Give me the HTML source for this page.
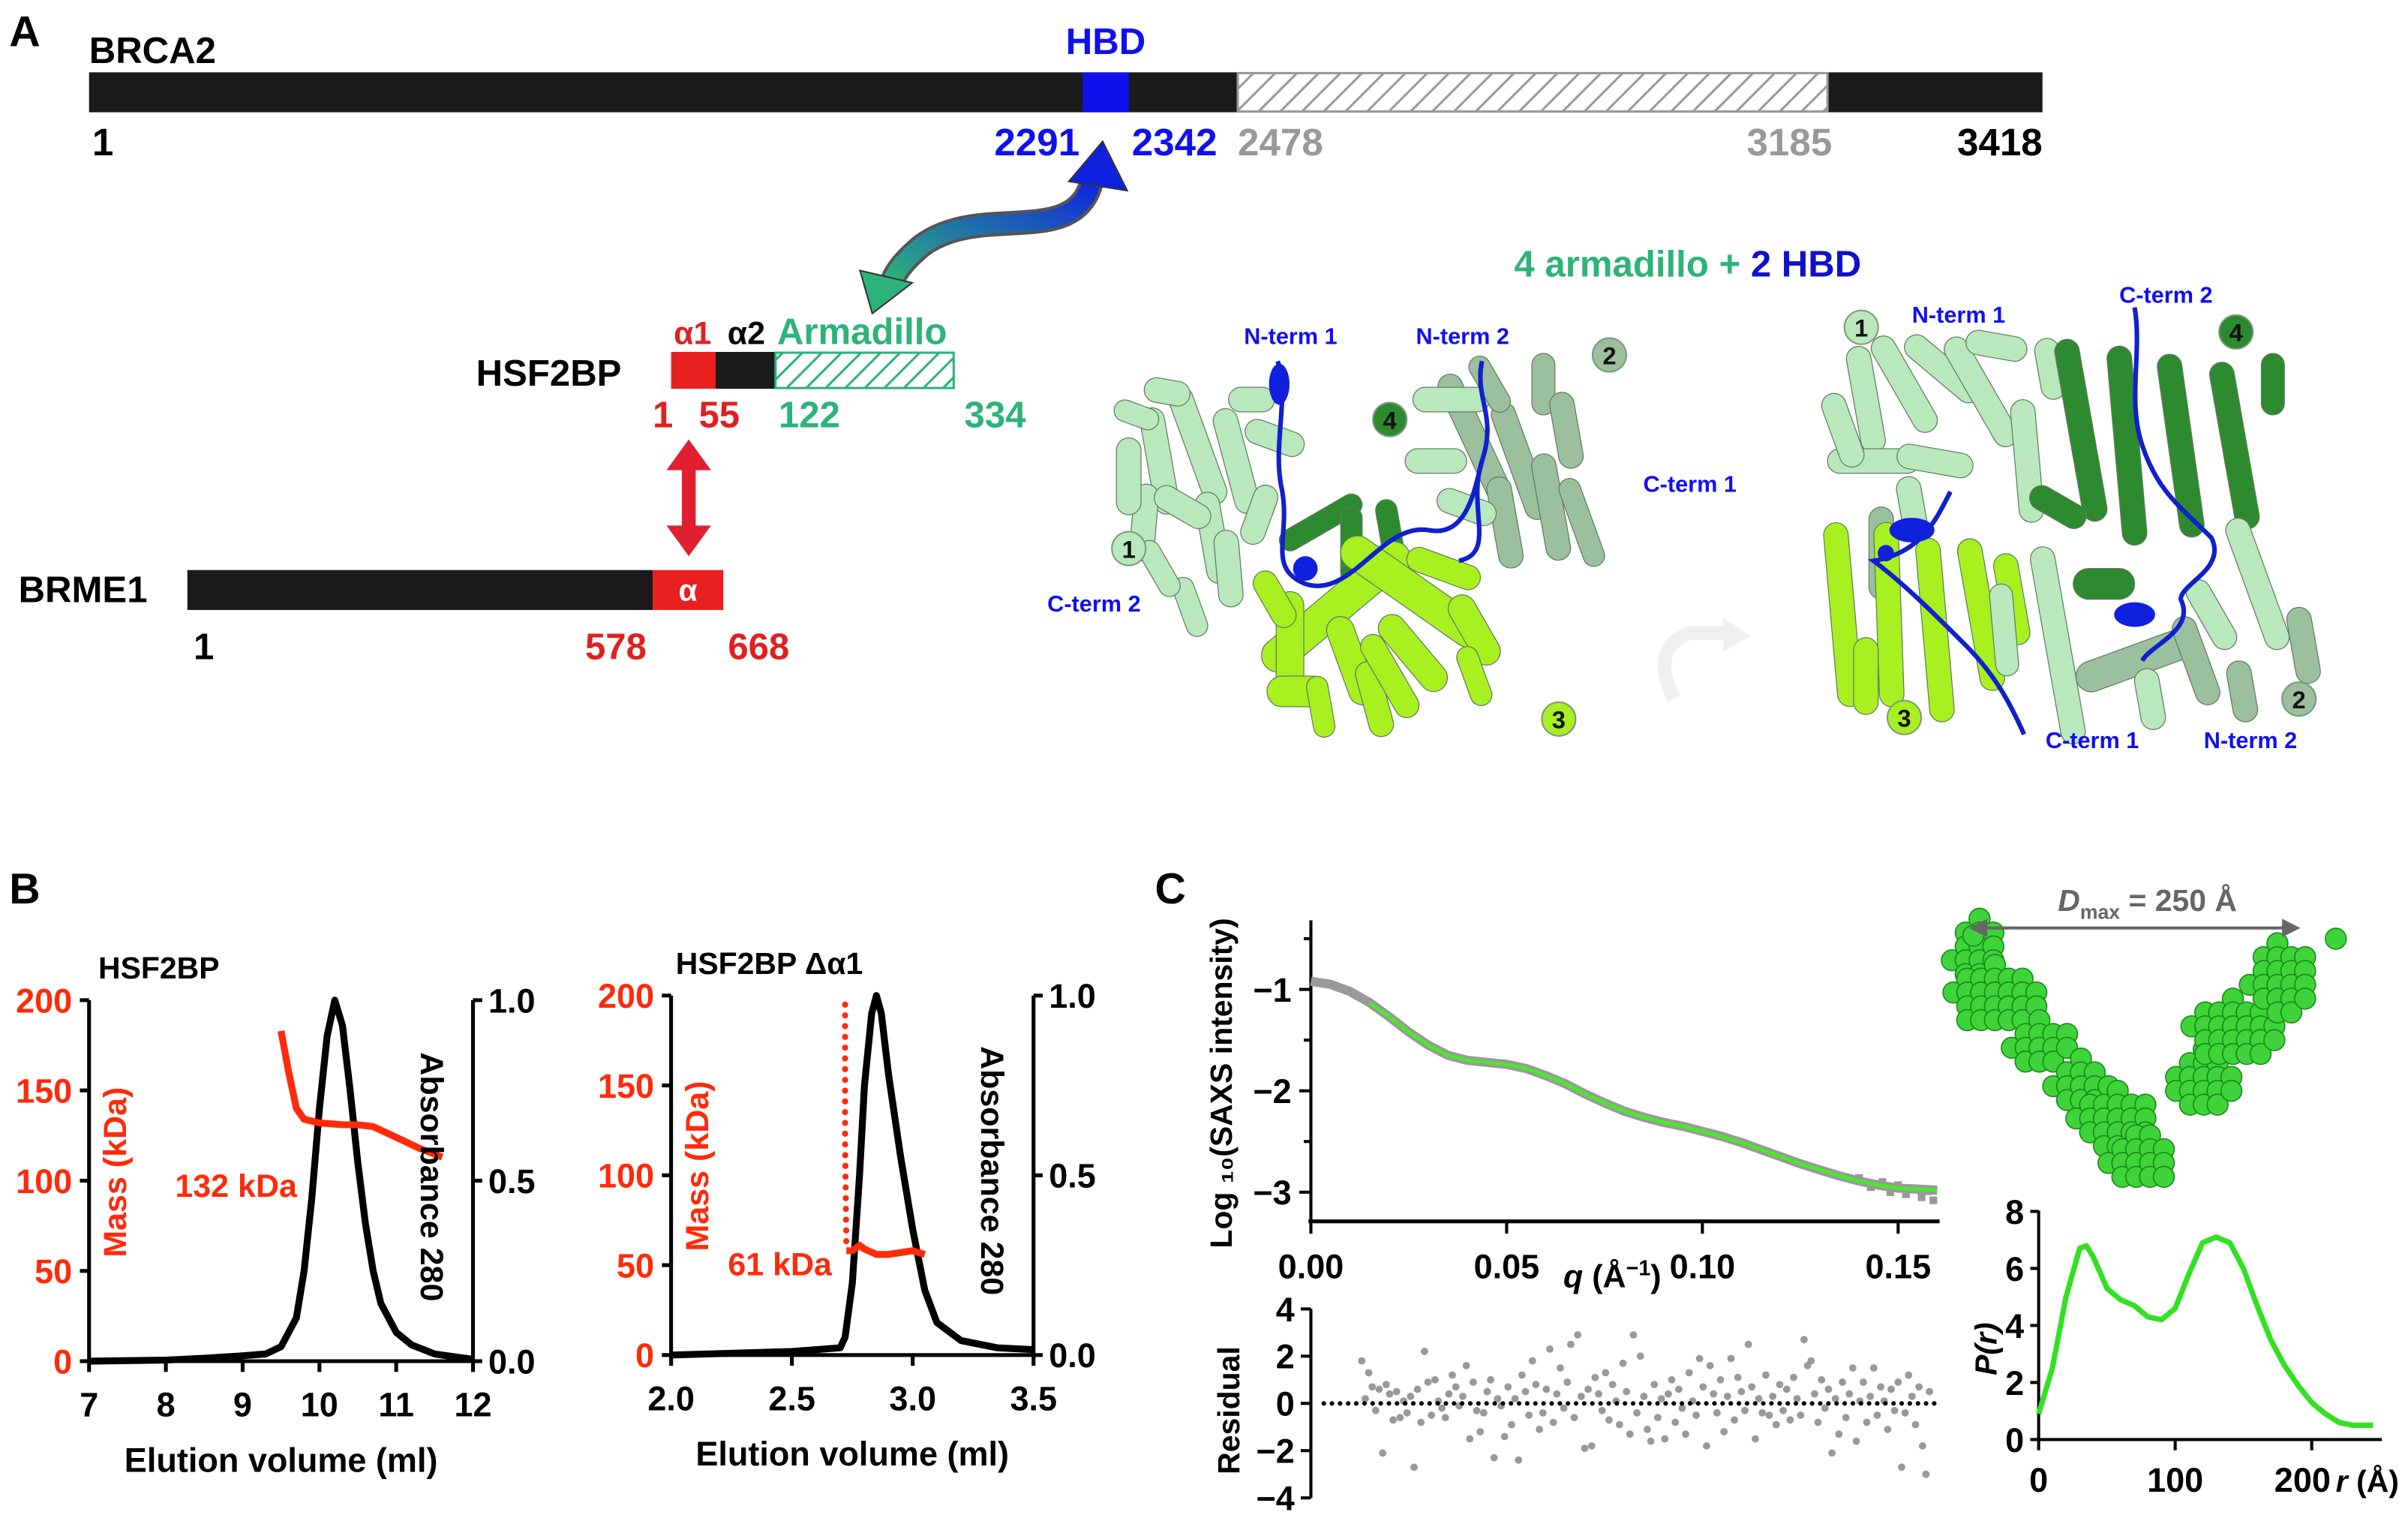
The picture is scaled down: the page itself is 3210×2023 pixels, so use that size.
<!DOCTYPE html>
<html><head><meta charset="utf-8"><style>
html,body{margin:0;padding:0;background:#fff}
svg{display:block}
text{font-family:"Liberation Sans Narrow","Liberation Sans",sans-serif;font-weight:bold}
</style></head><body>
<svg id="fig" xmlns="http://www.w3.org/2000/svg" width="3210" height="2023" viewBox="0 0 1568 988">
<defs>
<pattern id="hatchGray" patternUnits="userSpaceOnUse" width="10" height="10" patternTransform="rotate(45)"><rect width="10" height="10" fill="#fff"/><line x1="0" y1="0" x2="0" y2="10" stroke="#999" stroke-width="3"/></pattern>
<pattern id="hatchGreen" patternUnits="userSpaceOnUse" width="9" height="9" patternTransform="rotate(45)"><rect width="9" height="9" fill="#fff"/><line x1="0" y1="0" x2="0" y2="9" stroke="#2db37a" stroke-width="3"/></pattern>
<linearGradient id="arrowGrad" x1="0" y1="1" x2="1" y2="0"><stop offset="0" stop-color="#2db37a"/><stop offset="1" stop-color="#1020e0"/></linearGradient>
</defs>

<g>
<text x="6" y="30" font-size="28">A</text>
<text x="58" y="41" font-size="24">BRCA2</text>
<text x="720" y="35" font-size="24" fill="#1010ee" text-anchor="middle">HBD</text>
<rect x="58" y="47" width="1272" height="26" fill="#1a1a1a"/>
<rect x="705" y="47" width="30" height="26" fill="#1010ee"/>
<rect x="806" y="47.5" width="384" height="25" fill="url(#hatchGray)" stroke="#999" stroke-width="1.5"/>
<g font-size="25">
<text x="60" y="101">1</text>
<text x="703" y="101" fill="#1010ee" text-anchor="end">2291</text>
<text x="737" y="101" fill="#1010ee">2342</text>
<text x="806" y="101" fill="#999">2478</text>
<text x="1193" y="101" fill="#999" text-anchor="end">3185</text>
<text x="1330" y="101" text-anchor="end">3418</text>
</g>
<path d="M712 112 C 705 165, 640 130, 600 160 C 588 170, 582 178, 580 186" fill="none" stroke="#555" stroke-width="16"/>
<path d="M712 112 C 705 165, 640 130, 600 160 C 588 170, 582 178, 580 186" fill="none" stroke="url(#arrowGrad)" stroke-width="12"/>
<polygon points="696,118 718,92 734,124" fill="#1020e0" stroke="#333" stroke-width="1"/>
<polygon points="560,176 594,184 568,204" fill="#2db37a" stroke="#333" stroke-width="1"/>

<text x="310" y="251" font-size="24">HSF2BP</text>
<text x="451" y="224" font-size="21" fill="#e02020" text-anchor="middle">α1</text>
<text x="486" y="224" font-size="21" text-anchor="middle">α2</text>
<text x="506" y="224" font-size="24" fill="#2db37a">Armadillo</text>
<rect x="437" y="229" width="29" height="24" fill="#e82020"/>
<rect x="466" y="229" width="39" height="24" fill="#1a1a1a"/>
<rect x="505" y="229.5" width="116" height="23" fill="url(#hatchGreen)" stroke="#2db37a" stroke-width="1.5"/>
<g font-size="24">
<text x="425" y="278" fill="#e02020">1</text>
<text x="455" y="278" fill="#e02020">55</text>
<text x="507" y="278" fill="#2db37a">122</text>
<text x="668" y="278" fill="#2db37a" text-anchor="end">334</text>
</g>
<g>
<rect x="444" y="302" width="9" height="44" fill="#e02030"/>
<polygon points="434,306 448.5,286 463,306" fill="#e02030"/>
<polygon points="434,342 448.5,362 463,342" fill="#e02030"/>
</g>
<text x="12" y="392" font-size="24">BRME1</text>
<rect x="122" y="371" width="303" height="26" fill="#1a1a1a"/>
<rect x="425" y="371" width="46" height="26" fill="#e82020"/>
<text x="448" y="391" font-size="20" fill="#fff" text-anchor="middle">α</text>
<g font-size="24">
<text x="126" y="429">1</text>
<text x="401" y="429" fill="#e02020" text-anchor="middle">578</text>
<text x="494" y="429" fill="#e02020" text-anchor="middle">668</text>
</g>
<text x="1099" y="180" font-size="24" text-anchor="middle"><tspan fill="#2db37a">4 armadillo + </tspan><tspan fill="#1010cc">2 HBD</tspan></text>
<g id="structs"></g>
<path d="M1090 455 C 1078 430, 1085 418, 1100 412 L1125 412" fill="none" stroke="#eef0ee" stroke-width="9"/>
<polygon points="1122,402 1140,414 1122,424" fill="#eef0ee"/>
<g id="structLabels" font-size="15" fill="#1010ee">
<text x="810" y="224">N-term 1</text>
<text x="922" y="224">N-term 2</text>
<text x="1070" y="320">C-term 1</text>
<text x="682" y="398">C-term 2</text>
<text x="1245" y="210">N-term 1</text>
<text x="1380" y="197">C-term 2</text>
<text x="1332" y="487">C-term 1</text>
<text x="1435" y="487">N-term 2</text>
</g>
</g>

<g>
<text x="6" y="588" font-size="28">B</text>
<g id="secLeft"></g>
<g id="secRight"></g>
</g>

<g>
<text x="752" y="588" font-size="28">C</text>
<g id="saxs"></g>
<g id="resid"></g>
<g id="pr"></g>
<g id="beads"></g>
<line x1="1284" y1="604" x2="1496" y2="604" stroke="#666" stroke-width="2"/>
<polygon points="1282,604 1294,598 1294,610" fill="#666"/>
<polygon points="1498,604 1486,598 1486,610" fill="#666"/>
<text x="1340" y="593" font-size="20" fill="#666"><tspan font-style="italic">D</tspan><tspan font-size="13" dy="5">max</tspan><tspan dy="-5"> = 250 Å</tspan></text>
</g>
</svg>
<script>
const secLeftAbsX = [7,8,8.5,9,9.3,9.5,9.7,9.8,9.9,10,10.1,10.2,10.3,10.4,10.5,10.6,10.7,10.8,11,11.2,11.5,12];
const secLeftAbsY = [0,0.003,0.008,0.015,0.02,0.04,0.12,0.25,0.45,0.7,0.9,1.0,0.93,0.75,0.55,0.38,0.25,0.16,0.08,0.045,0.02,0.005];
const secLeftMassX = [9.5,9.6,9.7,9.8,10,10.3,10.5,10.7,11,11.3,11.6];
const secLeftMassY = [183,160,140,134,132,131,131,130,124,118,113];
const secLeftXTicks = [7,8,9,10,11,12];
const secRightAbsX = [2.0,2.5,2.7,2.72,2.75,2.78,2.8,2.83,2.85,2.87,2.9,2.95,3.0,3.05,3.1,3.2,3.35,3.5];
const secRightAbsY = [0,0.01,0.02,0.05,0.2,0.5,0.75,0.95,1.0,0.95,0.78,0.55,0.35,0.18,0.09,0.04,0.02,0.015];
const secRightMassDotX = [2.72,2.72,2.725];
const secRightMassDotY = [195,120,62];
const secRightMassX = [2.725,2.75,2.78,2.8,2.85,2.9,2.95,3.0,3.05];
const secRightMassY = [58,58,61,59,56,56,57,58,56];
const secRightXTicks = [2.0,2.5,3.0,3.5];
const massTicks = [0,50,100,150,200];
const absTicks = [0,0.5,1.0];
const saxsQ = [0,0.005,0.01,0.015,0.02,0.025,0.03,0.035,0.04,0.045,0.05,0.055,0.06,0.065,0.07,0.075,0.08,0.085,0.09,0.095,0.1,0.105,0.11,0.115,0.12,0.125,0.13,0.135,0.14,0.145,0.15,0.155,0.16];
const saxsLogI = [-0.92,-0.95,-1.02,-1.13,-1.27,-1.42,-1.55,-1.65,-1.70,-1.72,-1.74,-1.78,-1.85,-1.93,-2.03,-2.12,-2.20,-2.26,-2.31,-2.35,-2.40,-2.45,-2.51,-2.58,-2.65,-2.72,-2.78,-2.84,-2.89,-2.93,-2.96,-2.97,-2.98];
const saxsNoiseQ = [0.140,0.143,0.146,0.148,0.150,0.152,0.154,0.156,0.158,0.159];
const saxsNoiseI = [-2.86,-2.95,-2.90,-3.00,-2.93,-3.02,-2.97,-3.05,-2.99,-3.08];
const saxsXTicks = [0,0.05,0.10,0.15];
const saxsYTicks = [-1,-2,-3];
const residuals = [1.8,0.2,1.3,0.7,-0.3,0.6,-2.1,0.8,0.4,-0.7,0.5,-0.6,0.1,-0.4,0.3,-2.7,0.6,-0.8,2.2,0.9,-0.5,1.0,0.1,-0.2,-0.6,0.4,1.2,0.7,-0.1,0.3,1.6,-1.5,0.9,-0.3,-1.2,-0.4,0.5,1.0,-2.3,0.2,-0.1,-1.4,0.7,-0.9,0.2,-2.4,1.2,0.5,-0.5,1.8,0.8,-1.1,-0.4,0.6,2.3,-0.8,0.4,1.5,-0.2,0.9,2.5,-0.6,2.9,0.3,-1.9,0.6,-1.8,1.1,0.4,-0.3,1.3,-0.7,0.8,0.1,-0.9,1.7,0.5,-1.3,2.9,-0.4,2.0,0.3,-1.1,-1.6,0.8,-0.6,0.2,-1.5,0.4,1.0,-0.8,0.6,-0.2,-1.3,1.3,0.1,-0.5,1.9,0.7,-1.8,1.6,0.4,-0.4,1.0,-1.2,0.3,1.9,-0.7,1.1,0.5,-0.3,2.5,0.7,-1.5,0.2,-0.4,1.2,-0.5,0.3,-0.9,0.8,-0.3,0.6,-0.7,1.1,0.2,-0.5,2.7,1.6,1.8,0.4,-0.8,1.0,-0.2,0.6,-2.1,0.2,-1.3,0.9,-0.6,0.4,1.5,-1.6,0.1,0.9,-0.8,0.3,1.5,-0.5,0.7,0.1,-1.1,0.6,-0.3,0.9,-2.7,-0.4,1.2,0.3,-0.9,0.7,-1.8,-3.0,0.5];
const residTicks = [-4,-2,0,2,4];
const prR = [0,10,20,30,35,40,50,60,70,80,90,100,110,120,130,140,150,160,170,180,190,200,210,220,230,245];
const prVal = [0.9,2.5,5.0,6.7,6.8,6.4,5.3,4.9,4.7,4.3,4.2,4.6,5.8,6.9,7.1,6.9,6.0,4.7,3.5,2.6,1.9,1.3,0.9,0.6,0.5,0.5];
const prXTicks = [0,100,200];
const prYTicks = [0,2,4,6,8];

const NS='http://www.w3.org/2000/svg';
function mk(parent,tag,attrs,txt){const e=document.createElementNS(NS,tag);for(const k in attrs)e.setAttribute(k,attrs[k]);if(txt!==undefined)e.textContent=txt;parent.appendChild(e);return e;}
function lin(d0,d1,r0,r1){return v=>r0+(v-d0)*(r1-r0)/(d1-d0);}
function pathOf(xs,ys,sx,sy){return xs.map((x,i)=>(i?'L':'M')+sx(x).toFixed(1)+' '+sy(ys[i]).toFixed(1)).join(' ');}

function secChart(g,cfg){
  const sx=lin(cfg.xmin,cfg.xmax,cfg.x0,cfg.x1);
  const sm=lin(0,200,cfg.yb,cfg.yt);
  const sa=lin(0,1,cfg.yb,cfg.yt);
  let e;
  e=mk(g,'line',{x1:cfg.x0,y1:cfg.yt,x2:cfg.x0,y2:cfg.yb+1,stroke:'#000','stroke-width':2.5});
  
  
  e=mk(g,'line',{x1:cfg.x1,y1:cfg.yt,x2:cfg.x1,y2:cfg.yb+1,stroke:'#000','stroke-width':2.5});
  
  
  e=mk(g,'line',{x1:cfg.x0-1,y1:cfg.yb,x2:cfg.x1+1,y2:cfg.yb,stroke:'#000','stroke-width':2.5});
  
  
  massTicks.forEach(t=>{const y=sm(t);mk(g,'line',{x1:cfg.x0-6,y1:y,x2:cfg.x0,y2:y,stroke:'#000','stroke-width':2.5});
    e=mk(g,'text',{x:cfg.x0-11,y:y+8,'font-size':22,fill:'#ff2a0a','text-anchor':'end'},String(t));
    
    });
  absTicks.forEach(t=>{const y=sa(t);mk(g,'line',{x1:cfg.x1,y1:y,x2:cfg.x1+6,y2:y,stroke:'#000','stroke-width':2.5});
    e=mk(g,'text',{x:cfg.x1+10,y:y+8,'font-size':22},t.toFixed(1));
    
    });
  cfg.xt.forEach(t=>{const x=sx(t);mk(g,'line',{x1:x,y1:cfg.yb,x2:x,y2:cfg.yb+7,stroke:'#000','stroke-width':2.5});
    e=mk(g,'text',{x:x,y:cfg.yb+36,'font-size':22,'text-anchor':'middle'},cfg.fmt(t));
    
    });
  e=mk(g,'path',{d:pathOf(cfg.ax,cfg.ay,sx,sa),fill:'none',stroke:'#000','stroke-width':4.5,'stroke-linejoin':'round'});
  
  
  if(cfg.dx){
    e=mk(g,'path',{d:pathOf(cfg.dx,cfg.dy,sx,sm),fill:'none',stroke:'#ff2a0a','stroke-width':4,'stroke-dasharray':'0 7','stroke-linecap':'round'});
    
    
  }
  e=mk(g,'path',{d:pathOf(cfg.mx,cfg.my,sx,sm),fill:'none',stroke:'#ff2a0a','stroke-width':4.5,'stroke-linejoin':'round'});
  
  
  e=mk(g,'text',{x:cfg.title[1],y:cfg.title[2],'font-size':20},cfg.title[0]);
  
  
  e=mk(g,'text',{x:(cfg.x0+cfg.x1)/2,y:cfg.yb+72,'font-size':22,'text-anchor':'middle'},'Elution volume (ml)');
  
  
  e=mk(g,'text',{x:0,y:0,'font-size':21,fill:'#ff2a0a','text-anchor':'middle',transform:`translate(${cfg.x0+24},${cfg.yb-123}) rotate(-90)`},'Mass (kDa)');
  
  
  e=mk(g,'text',{x:0,y:0,'font-size':21,'text-anchor':'middle',transform:`translate(${cfg.x1-34},${cfg.yb-120}) rotate(90)`},'Absorbance 280');
  
  
  e=mk(g,'text',{x:cfg.kda[1],y:cfg.kda[2],'font-size':21,fill:'#ff2a0a'},cfg.kda[0]);
  
  
}
secChart(document.getElementById('secLeft'),{xmin:7,xmax:12,x0:58,x1:308,yt:651,yb:886,xt:secLeftXTicks,fmt:t=>String(t),
  ax:secLeftAbsX,ay:secLeftAbsY,mx:secLeftMassX,my:secLeftMassY,title:['HSF2BP',64,637],kda:['132 kDa',114,779]});
secChart(document.getElementById('secRight'),{xmin:2,xmax:3.5,x0:437,x1:673,yt:648,yb:882,xt:secRightXTicks,fmt:t=>t.toFixed(1),
  ax:secRightAbsX,ay:secRightAbsY,mx:secRightMassX,my:secRightMassY,dx:secRightMassDotX,dy:secRightMassDotY,title:['HSF2BP Δα1',440,634],kda:['61 kDa',474,830]});

(function(){
  const g=document.getElementById('saxs');
  const sx=lin(0,0.15,853.6,1236), sy=lin(-1,-3,644,776);
  let e;
  e=mk(g,'line',{x1:853.6,y1:599,x2:853.6,y2:796,stroke:'#000','stroke-width':2});
  
  
  e=mk(g,'line',{x1:852,y1:795,x2:1263,y2:795,stroke:'#000','stroke-width':2.5});
  
  
  [-0.5,-1.5,-2.5].forEach(t=>mk(g,'line',{x1:849,y1:sy(t),x2:853.6,y2:sy(t),stroke:'#000','stroke-width':2}));
  saxsYTicks.forEach(t=>{mk(g,'line',{x1:846,y1:sy(t),x2:853.6,y2:sy(t),stroke:'#000','stroke-width':2});
    e=mk(g,'text',{x:841,y:sy(t)+8,'font-size':22,'text-anchor':'end'},'−'+Math.abs(t));
    
    });
  saxsXTicks.forEach(t=>{mk(g,'line',{x1:sx(t),y1:795,x2:sx(t),y2:803,stroke:'#000','stroke-width':2});
    e=mk(g,'text',{x:sx(t),y:832,'font-size':22,'text-anchor':'middle'},t.toFixed(2));
    
    });
  e=mk(g,'path',{d:pathOf(saxsQ,saxsLogI,sx,sy),fill:'none',stroke:'#999','stroke-width':6,'stroke-linejoin':'round'});
  
  
  saxsNoiseQ.forEach((q,i)=>{e=mk(g,'rect',{x:sx(q)-2.5,y:sy(saxsNoiseI[i])-2.5,width:5,height:5,fill:'#999'});
    
    });
  e=mk(g,'path',{d:pathOf(saxsQ.slice(3),saxsLogI.slice(3),sx,sy),fill:'none',stroke:'#44ee22','stroke-width':2.2});
  
  
  e=mk(g,'text',{x:0,y:0,'font-size':20,'text-anchor':'middle',transform:'translate(802,705) rotate(-90)'},'Log ₁₀(SAXS intensity)');
  
  
  e=mk(g,'text',{x:1018,y:838,'font-size':21},'');
  e.innerHTML='<tspan font-style="italic">q</tspan> (Å<tspan font-size="14" dy="-8">−1</tspan><tspan dy="8">)</tspan>';
  
  
})();
(function(){
  const g=document.getElementById('resid');
  const sx=lin(0,0.15,853.6,1236), sy=lin(4,-4,852,975);
  let e;
  e=mk(g,'line',{x1:853.6,y1:852,x2:853.6,y2:975,stroke:'#000','stroke-width':2});
  
  
  residTicks.forEach(t=>{mk(g,'line',{x1:847,y1:sy(t),x2:853.6,y2:sy(t),stroke:'#000','stroke-width':2});
    e=mk(g,'text',{x:843,y:sy(t)+8,'font-size':22,'text-anchor':'end'},t<0?'−'+Math.abs(t):String(t));
    
    });
  const n=residuals.length;
  residuals.forEach((v,i)=>{const q=0.013+i*(0.158-0.013)/(n-1);
    e=mk(g,'circle',{cx:sx(q),cy:sy(v),r:2.4,fill:'#999'});
    
    });
  e=mk(g,'line',{x1:862,y1:sy(0),x2:1260,y2:sy(0),stroke:'#000','stroke-width':3,'stroke-dasharray':'0 5.3','stroke-linecap':'round'});
  
  
  e=mk(g,'text',{x:0,y:0,'font-size':20,'text-anchor':'middle',transform:'translate(807,918) rotate(-90)'},'Residual');
  
  
})();
(function(){
  const g=document.getElementById('pr');
  const sx=lin(0,200,1327.5,1505.3), sy=lin(0,8,937,788.5);
  let e;
  e=mk(g,'line',{x1:1327.5,y1:788,x2:1327.5,y2:938,stroke:'#000','stroke-width':2});
  
  
  e=mk(g,'line',{x1:1326,y1:937,x2:1551,y2:937,stroke:'#000','stroke-width':2});
  
  
  prYTicks.forEach(t=>{mk(g,'line',{x1:1322,y1:sy(t),x2:1327.5,y2:sy(t),stroke:'#000','stroke-width':2});
    e=mk(g,'text',{x:1318,y:sy(t)+8,'font-size':22,'text-anchor':'end'},String(t));
    
    });
  prXTicks.forEach(t=>{mk(g,'line',{x1:sx(t),y1:937,x2:sx(t),y2:944,stroke:'#000','stroke-width':2});
    e=mk(g,'text',{x:sx(t)-(t===200?6:0),y:971,'font-size':22,'text-anchor':'middle'},String(t));
    
    });
  e=mk(g,'path',{d:pathOf(prR,prVal,sx,sy),fill:'none',stroke:'#33e022','stroke-width':3.5,'stroke-linejoin':'round'});
  
  
  e=mk(g,'text',{x:0,y:0,'font-size':20,'text-anchor':'middle',transform:'translate(1300,878) rotate(-90)','font-style':'italic'},'P(r)');
  
  
  e=mk(g,'text',{x:1521,y:971,'font-size':20},'');
  e.innerHTML='<tspan font-style="italic">r</tspan> (Å)';
  
  
})();
(function(){
  const g=document.getElementById('beads');
  const blobs=[[1287,622,16,24],[1300,650,28,22],[1330,680,20,16],[1355,705,18,16],[1378,730,26,20],[1395,755,22,16],[1435,705,18,22],[1455,672,28,22],[1485,638,20,24],[1518,608,6,6],[1282,606,6,6]];
  blobs.forEach(b=>{const [cx,cy,rx,ry]=b;
    for(let i=-rx;i<=rx;i+=9)for(let j=-ry;j<=ry;j+=9){if((i*i)/(rx*rx+1)+(j*j)/(ry*ry+1)>1.05)continue;
      const e=mk(g,'circle',{cx:cx+i,cy:cy+j,r:6.8,fill:'#3ed43a',stroke:'#1a8a18','stroke-width':0.8});
      
      }});
})();
(function(){
  const g=document.getElementById('structs');
  const LG='#b8e8bc',GG='#9cbf9e',LI='#a8f020',DG='#2e8a2e';
  const cyl=[
   [755,300,70,16,80,LG],[780,290,80,16,70,LG],[805,300,70,16,75,LG],[745,340,50,16,95,LG],[790,350,60,16,80,LG],[770,330,40,16,30,LG],[815,260,30,16,0,LG],[740,270,30,14,20,LG],[820,335,40,16,110,LG],
   [735,310,50,16,90,LG],[760,255,30,16,10,LG],[800,370,50,16,85,LG],[830,285,40,16,20,LG],[775,395,40,14,70,LG],[755,370,40,14,60,LG],
   [960,285,90,16,65,GG],[990,300,80,16,70,GG],[1010,330,70,16,80,GG],[945,260,50,16,0,LG],[935,300,40,16,0,LG],[1005,250,40,15,90,GG],[980,340,60,16,80,GG],
   [1020,280,50,16,80,GG],[955,330,40,16,20,LG],[1030,340,60,14,70,GG],[970,250,40,14,60,GG],
   [860,340,60,14,-30,DG],[880,355,50,14,90,DG],[905,345,40,14,80,DG],
   [870,395,120,22,-40,LI],[920,385,110,22,35,LI],[840,420,70,18,90,LI],[880,430,60,18,70,LI],[920,425,60,18,50,LI],[960,410,50,18,60,LI],[845,450,40,20,0,LI],[895,455,50,16,75,LI],[940,370,50,16,20,LI],
   [905,440,60,16,60,LI],[860,460,40,14,80,LI],[960,440,40,14,70,LI],[830,390,40,16,60,LI],
   [1215,260,70,16,80,LG],[1240,250,70,16,60,LG],[1265,240,60,16,40,LG],[1290,255,80,16,60,LG],[1220,300,60,16,0,LG],[1260,300,50,16,10,LG],[1320,300,80,16,85,LG],[1225,360,60,16,90,GG],
   [1200,280,50,16,70,LG],[1300,225,40,16,10,LG],[1335,240,40,16,80,LG],[1245,330,40,16,80,LG],
   [1355,280,120,16,80,DG],[1385,290,130,16,85,DG],[1420,290,120,16,82,DG],[1455,290,110,16,80,DG],[1340,330,40,16,30,DG],[1480,250,40,15,90,DG],[1370,380,40,20,0,DG],
   [1200,400,120,16,85,LI],[1230,400,120,16,88,LI],[1260,410,120,16,85,LI],[1290,400,100,16,80,LI],[1310,390,60,16,80,LI],[1305,410,60,15,85,LG],[1215,440,50,16,90,LI],
   [1340,420,130,16,80,LG],[1390,430,80,20,-20,GG],[1430,430,60,16,70,GG],[1470,380,90,16,70,LG],[1500,420,50,16,80,GG],[1440,400,50,16,60,LG],[1460,450,40,16,80,GG],[1400,455,40,16,80,LG]];
  cyl.forEach(c=>{const [cx,cy,l,w,a,col]=c;
    const e=mk(g,'rect',{x:cx-l/2,y:cy-w/2,width:l,height:w,rx:w/2,fill:col,stroke:'#607a60','stroke-width':0.6,transform:`rotate(${a} ${cx} ${cy})`});
    
    });
  const loops=['M832 235 C 840 260, 828 290, 835 320 C 840 350, 825 370, 850 380 C 880 390, 900 340, 930 345 C 955 350, 960 320, 965 300','M965 235 C 960 260, 975 270, 965 300 C 955 330, 975 360, 950 365',
   'M1270 320 C 1260 340, 1250 360, 1220 365 C 1240 380, 1260 400, 1280 420 C 1300 440, 1310 460, 1318 478','M1390 200 C 1395 230, 1385 260, 1395 290 C 1405 320, 1420 330, 1440 350 C 1450 370, 1420 380, 1420 390 C 1430 410, 1400 420, 1395 430'];
  loops.forEach(d=>{const e=mk(g,'path',{d:d,fill:'none',stroke:'#1020cc','stroke-width':3});
    
    });
  [[833,250,10,20],[850,370,12,12],[1245,345,22,12],[1228,360,8,8],[1390,400,20,12]].forEach(b=>{const e=mk(g,'ellipse',{cx:b[0],cy:b[1],rx:b[2]/1.5,ry:b[3]/1.5,fill:'#1020dd'});
    
    });
  const circ=[[735,357,'1',LG],[1048,231,'2',GG],[905,273,'4',DG],[1015,468,'3',LI],[1212,213,'1',LG],[1456,216,'4',DG],[1240,467,'3',LI],[1497,455,'2',GG]];
  circ.forEach(c=>{let e=mk(g,'circle',{cx:c[0],cy:c[1],r:11,fill:c[3],stroke:'#7a9a7a','stroke-width':1});
    
    
    e=mk(g,'text',{x:c[0],y:c[1]+6,'font-size':16,'text-anchor':'middle',fill:'#111'},c[2]);
    
    });
})();
</script>
</body></html>
